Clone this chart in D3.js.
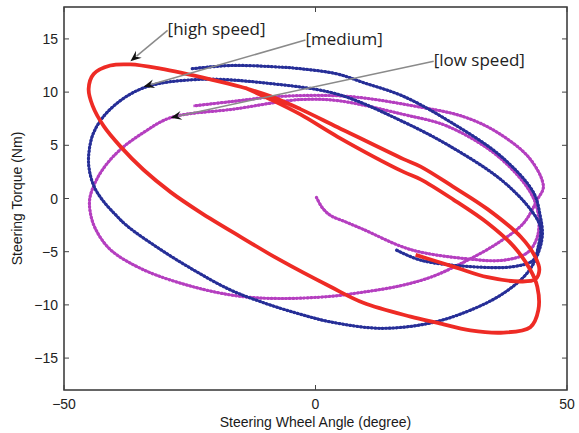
<!DOCTYPE html>
<html>
<head>
<meta charset="utf-8">
<script src="https://cdn.jsdelivr.net/npm/d3@7"></script>
<style>
  body { margin: 0; background: #fff; }
  svg { display: block; }
  .tick-label { font-family: "Liberation Sans", Arial, sans-serif; font-size: 14px; fill: #222; }
  .axis-title { font-family: "Liberation Sans", Arial, sans-serif; font-size: 14px; fill: #1a1a1a; }
  .note { font-family: "Open Sans", "Noto Sans", sans-serif; font-size: 17px; fill: #222; }
</style>
</head>
<body>
<div id="chart"></div>
<script>
// ********** data **********
// steering wheel angle (deg), steering torque (Nm)
const highAngle = [19.9, 27.4, 34.2, 40.8, 43.7, 44.5, 43.7, 40.8, 34.2, 27.4, 20.9, 17.5, 4.4, -3.0, -8.9, -14.9, -20.9, -30.8, -36.8, -40.8, -44.1, -45.1, -44.3, -42.1, -38.8, -34.2, -28.8, -22.9, -14.9, -7.0, 3.0, 9.5, 18.9, 24.3, 30.8, 37.4, 42.7, 44.3, 44.1, 42.7, 39.4, 34.2, 27.4, 20.9, 17.5, 4.4, -3.0, -8.9, -14.0]
const highTorque = [-5.3, -6.4, -7.4, -7.8, -7.6, -6.7, -5.5, -3.6, -1.0, 1.1, 3.0, 3.7, 6.7, 8.4, 9.6, 10.5, 11.2, 12.2, 12.6, 12.5, 11.7, 10.3, 8.7, 6.8, 4.9, 2.7, 0.6, -1.3, -3.6, -5.8, -8.3, -9.8, -11.1, -11.7, -12.4, -12.6, -12.1, -10.5, -8.3, -6.7, -4.5, -2.3, -0.1, 1.8, 2.5, 5.8, 7.9, 9.3, 10.4]

const mediumAngle = [-24.5, -16.9, -8.9, -3.0, 4.4, 9.5, 17.5, 26.8, 36.8, 43.3, 44.7, 45.1, 44.3, 42.1, 37.4, 30.8, 22.9, 12.9, 3.0, -3.6, -10.3, -16.9, -24.3, -30.8, -37.4, -39.8, -42.1, -43.9, -44.9, -45.1, -44.1, -40.8, -34.2, -22.9, -8.9, 4.4, 17.5, 26.8, 36.8, 42.7, 44.7, 44.3, 43.3, 39.4, 30.8, 20.9, 15.9]
const mediumTorque = [12.2, 12.5, 12.4, 12.2, 11.7, 10.9, 9.6, 7.2, 4.0, 0.6, -1.7, -3.4, -5.1, -7.0, -8.9, -10.5, -11.7, -12.2, -11.6, -10.8, -9.8, -8.6, -6.7, -4.8, -2.6, -1.5, -0.3, 1.0, 2.5, 4.0, 6.2, 8.4, 10.4, 11.2, 10.8, 9.8, 7.2, 4.9, 1.8, -1.0, -2.7, -4.5, -5.8, -6.4, -6.4, -5.8, -4.8]

const lowAngle = [0.2, 1.4, 3.0, 6.0, 9.5, 18.9, 30.8, 37.4, 42.1, 44.1, 44.3, 42.7, 36.2, 26.2, 17.5, 4.4, -3.0, -16.3, -28.8, -34.2, -38.8, -41.9, -43.9, -44.9, -44.7, -43.7, -40.8, -34.2, -24.3, -14.9, -7.0, 3.0, 9.5, 16.9, 22.9, 29.4, 36.2, 41.4, 44.1, 45.3, 42.7, 36.2, 29.4, 19.5, 6.4, -7.0, -16.9, -24.3]
const lowTorque = [0.1, -0.9, -1.6, -2.2, -2.9, -4.8, -5.7, -5.8, -5.1, -3.6, -1.5, 0.6, 4.0, 6.8, 7.9, 9.2, 9.3, 8.4, 7.6, 6.2, 4.6, 3.0, 1.4, -0.1, -1.5, -2.9, -4.8, -6.7, -8.3, -9.2, -9.4, -9.2, -8.8, -8.2, -7.4, -6.0, -4.2, -2.3, -0.1, 1.1, 3.7, 6.2, 7.7, 8.7, 9.6, 9.6, 9.1, 8.7]

const xTicks = [-50, 0, 50]
const yTicks = [-15, -10, -5, 0, 5, 10, 15]

// annotation labels: text, text anchor (angle, torque) and arrow tip (angle, torque)
const noteText = ["[high speed]", "[medium]", "[low speed]"]
const noteStart = [[-29.4, 15.8], [-2.0, 14.9], [23.5, 12.9]]
const noteTip = [[-36.8, 12.9], [-34.2, 10.5], [-28.8, 7.6]]

// ********** layout **********
const margin = { top: 7, right: 12, bottom: 43, left: 64 }
const width = 579 - margin.left - margin.right
const height = 433 - margin.top - margin.bottom

const x = d3.scaleLinear().domain([-50, 50]).range([0, width])
const y = d3.scaleLinear().domain([-18, 18]).range([height, 0])

const svg = d3.select("#chart")
  .append("svg")
  .attr("width", 579)
  .attr("height", 433)
  .append("g")
  .attr("transform", "translate(" + margin.left + "," + margin.top + ")")

const line = d3.line()
  .x(d => x(d[0]))
  .y(d => y(d[1]))
  .curve(d3.curveCatmullRom.alpha(0.5))

const zip = (a, b) => a.map((v, i) => [v, b[i]])

// dotted series: light base line + darker dots on top
function dotted(data, base, dots) {
  const d = line(data)
  svg.append("path")
    .attr("d", d)
    .attr("fill", "none")
    .attr("stroke", base)
    .attr("stroke-width", 2.4)
  svg.append("path")
    .attr("d", d)
    .attr("fill", "none")
    .attr("stroke", dots)
    .attr("stroke-width", 3.2)
    .attr("stroke-linecap", "round")
    .attr("stroke-dasharray", "0.6,3")
}

// low speed (magenta)
dotted(zip(lowAngle, lowTorque), "#cc5fd4", "#b43fbf")

// medium (blue)
dotted(zip(mediumAngle, mediumTorque), "#4a52b8", "#262e96")

// high speed (red, solid)
svg.append("path")
  .attr("d", line(zip(highAngle, highTorque)))
  .attr("fill", "none")
  .attr("stroke", "#ee2b25")
  .attr("stroke-width", 3.8)
  .attr("stroke-linejoin", "round")

// ********** frame + ticks **********
svg.append("rect")
  .attr("width", width)
  .attr("height", height)
  .attr("fill", "none")
  .attr("stroke", "#333")
  .attr("stroke-width", 1.5)

const tickLen = 5
svg.selectAll(".xtick")
  .data(xTicks)
  .enter()
  .append("path")
  .attr("class", "xtick")
  .attr("d", d => "M" + x(d) + "," + height + "v" + (-tickLen) + "M" + x(d) + ",0v" + tickLen)
  .attr("stroke", "#444")

svg.selectAll(".ytick")
  .data(yTicks)
  .enter()
  .append("path")
  .attr("class", "ytick")
  .attr("d", d => "M0," + y(d) + "h" + tickLen + "M" + width + "," + y(d) + "h" + (-tickLen))
  .attr("stroke", "#444")

const fmt = d => (d < 0 ? "\u2212" + Math.abs(d) : "" + d)

svg.selectAll(".xlab")
  .data(xTicks)
  .enter()
  .append("text")
  .attr("class", "tick-label")
  .attr("x", d => x(d))
  .attr("y", height + 19)
  .attr("text-anchor", "middle")
  .text(fmt)

svg.selectAll(".ylab")
  .data(yTicks)
  .enter()
  .append("text")
  .attr("class", "tick-label")
  .attr("x", -6)
  .attr("y", d => y(d) + 5)
  .attr("text-anchor", "end")
  .text(fmt)

// axis titles
svg.append("text")
  .attr("class", "axis-title")
  .attr("x", width / 2)
  .attr("y", height + 37)
  .attr("text-anchor", "middle")
  .text("Steering Wheel Angle (degree)")

svg.append("text")
  .attr("class", "axis-title")
  .attr("transform", "translate(" + (-42) + "," + (height / 2) + ") rotate(-90)")
  .attr("text-anchor", "middle")
  .text("Steering Torque (Nm)")

// ********** annotations **********
noteText.forEach(function(t, i) {
  const x0 = x(noteStart[i][0]), y0 = y(noteStart[i][1])
  const x1 = x(noteTip[i][0]), y1 = y(noteTip[i][1])
  const ang = Math.atan2(y1 - y0, x1 - x0)
  const hl = 11, hw = 4.5
  const bx = x1 - hl * Math.cos(ang), by = y1 - hl * Math.sin(ang)
  svg.append("line")
    .attr("x1", x0).attr("y1", y0)
    .attr("x2", bx + 3 * Math.cos(ang)).attr("y2", by + 3 * Math.sin(ang))
    .attr("stroke", "#8a8a8a")
    .attr("stroke-width", 1.5)
  const px = -Math.sin(ang), py = Math.cos(ang)
  const nx = x1 - 7 * Math.cos(ang), ny = y1 - 7 * Math.sin(ang)
  svg.append("path")
    .attr("d", "M" + x1 + "," + y1 +
      "L" + (bx + hw * px) + "," + (by + hw * py) +
      "L" + nx + "," + ny +
      "L" + (bx - hw * px) + "," + (by - hw * py) + "Z")
    .attr("fill", "#111")
  svg.append("text")
    .attr("class", "note")
    .attr("x", x0)
    .attr("y", y0 + 5)
    .text(t)
})
</script>
</body>
</html>
